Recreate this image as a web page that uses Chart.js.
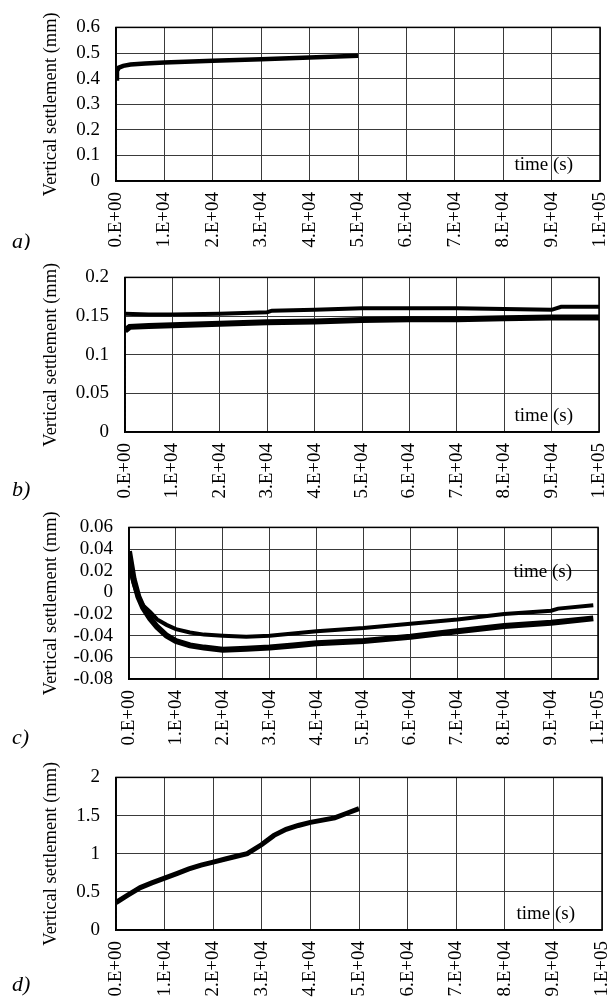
<!DOCTYPE html>
<html>
<head>
<meta charset="utf-8">
<script src="https://cdn.jsdelivr.net/npm/chart.js@4/dist/chart.umd.min.js"></script>
<style>
  body { margin: 0; background: #fff; width: 607px; height: 1001px; position: relative; overflow: hidden; }
  canvas { position: absolute; left: 0; }
</style>
</head>
<body>
<canvas id="chartA" width="607" height="250" style="top:0"></canvas>
<canvas id="chartB" width="607" height="250" style="top:250px"></canvas>
<canvas id="chartC" width="607" height="250" style="top:500px"></canvas>
<canvas id="chartD" width="607" height="251" style="top:750px"></canvas>
<script>
// a) one test, up to 5E4 s
const timeA = [0, 200, 600, 1500, 3000, 6000, 10000, 20000, 30000, 40000, 50000];
const settleA = [0.40, 0.43, 0.443, 0.450, 0.455, 0.459, 0.463, 0.470, 0.476, 0.482, 0.489];
const riseA = [0, 0.40];

// b) two tests
const timeB1 = [0, 5000, 10000, 20000, 30000, 31000, 40000, 50000, 60000, 70000, 80000, 90000, 92000, 100000];
const settleB1 = [0.153, 0.152, 0.152, 0.153, 0.155, 0.157, 0.158, 0.160, 0.160, 0.160, 0.159, 0.158, 0.162, 0.162];
const timeB2 = [0, 1000, 5000, 10000, 20000, 30000, 40000, 50000, 60000, 70000, 80000, 90000, 100000];
const settleB2 = [0.131, 0.136, 0.137, 0.138, 0.140, 0.142, 0.143, 0.145, 0.146, 0.146, 0.147, 0.148, 0.148];
const riseB = [0, 0.131];

// c) two tests, heave then settlement
const timeC1 = [0, 1000, 2000, 3000, 4500, 6000, 8000, 10000, 13000, 16000, 20000, 25000, 30000, 35000, 40000, 50000, 60000, 70000, 80000, 90000, 91500, 99000];
const settleC1 = [0.025, 0.008, -0.005, -0.012, -0.018, -0.025, -0.030, -0.034, -0.037, -0.039, -0.040, -0.041, -0.040, -0.038, -0.036, -0.033, -0.029, -0.025, -0.020, -0.017, -0.015, -0.012];
const timeC2 = [0, 1000, 2000, 3000, 4500, 6000, 8000, 10000, 13000, 16000, 20000, 25000, 30000, 35000, 40000, 50000, 60000, 70000, 80000, 90000, 99000];
const settleC2 = [0.038, 0.012, -0.004, -0.014, -0.024, -0.032, -0.040, -0.045, -0.049, -0.051, -0.053, -0.052, -0.051, -0.049, -0.047, -0.045, -0.041, -0.036, -0.031, -0.028, -0.024];

// d) one test, up to 5E4 s
const timeD = [0, 2500, 5000, 7500, 10000, 12500, 15000, 17500, 20000, 22500, 25000, 27000, 30000, 32500, 35000, 37500, 40000, 42500, 45000, 47500, 50000];
const settleD = [0.36, 0.46, 0.556, 0.62, 0.68, 0.74, 0.80, 0.85, 0.89, 0.93, 0.97, 1.0, 1.12, 1.24, 1.32, 1.37, 1.41, 1.44, 1.47, 1.53, 1.59];
const riseD = [0, 0.36];

const FONT = '"Liberation Serif", "Times New Roman", serif';

function pts(xs, ys) { return xs.map((x, i) => ({ x: x, y: ys[i] })); }
function sciLabel(v) {
  if (v === 0) return '0.E+00';
  const e = Math.floor(Math.log10(v) + 1e-9);
  const m = Math.round(v / Math.pow(10, e));
  return m + '.E+' + String(e).padStart(2, '0');
}

const panelText = {
  id: 'panelText',
  afterDraw(chart, args, opts) {
    const { ctx, chartArea } = chart;
    ctx.save();
    ctx.strokeStyle = '#000';
    ctx.lineWidth = 1.5;
    ctx.strokeRect(chartArea.left, chartArea.top, chartArea.right - chartArea.left, chartArea.bottom - chartArea.top);
    ctx.fillStyle = '#000';
    ctx.font = '19px ' + FONT;
    ctx.textAlign = 'right';
    ctx.textBaseline = 'middle';
    ctx.fillText('time (s)', chartArea.right - opts.timeRight, chartArea.bottom - opts.timeUp);
    ctx.font = 'italic 22px ' + FONT;
    ctx.textAlign = 'left';
    ctx.fillText(opts.letter, 12, opts.letterY);
    ctx.restore();
  }
};

function thick(data, w) {
  return { data: data, borderColor: '#000', borderWidth: w, pointRadius: 0, tension: 0, fill: false };
}
function thin(data) {
  return { data: data, borderColor: '#000', borderWidth: 1, borderDash: [2, 2], pointRadius: 0, fill: false };
}

function makeChart(id, p) {
  const H = document.getElementById(id).height;
  return new Chart(document.getElementById(id), {
    type: 'line',
    data: { datasets: p.datasets },
    plugins: [panelText],
    options: {
      responsive: false,
      animation: false,
      layout: { padding: { top: p.top, right: 607 - p.right, left: 0, bottom: 0 } },
      plugins: {
        legend: { display: false },
        tooltip: { enabled: false },
        panelText: { letter: p.letter, letterY: p.letterY, timeRight: p.timeRight, timeUp: p.timeUp }
      },
      scales: {
        x: {
          type: 'linear', min: 0, max: 100000,
          grid: { color: '#3a3a3a', lineWidth: 1, drawTicks: false },
          border: { color: '#000', width: 1.5 },
          ticks: {
            stepSize: 10000, autoSkip: false, minRotation: 90, maxRotation: 90,
            padding: 11, color: '#000', font: { family: FONT, size: 19 },
            callback: v => sciLabel(v)
          },
          afterFit: s => { s.height = H - p.bottom; s.paddingLeft = 0; s.paddingRight = 0; }
        },
        y: {
          min: p.ymin, max: p.ymax,
          grid: { color: '#3a3a3a', lineWidth: 1, drawTicks: false },
          border: { color: '#000', width: 1.5 },
          ticks: {
            stepSize: p.step, autoSkip: false, padding: 16, color: '#000', font: { family: FONT, size: 19 },
            callback: v => String(+v.toFixed(2))
          },
          title: {
            display: true, text: 'Vertical settlement (mm)', color: '#000',
            font: { family: FONT, size: 18.5 }, padding: { top: 40, bottom: 0 }
          },
          afterFit: s => { s.width = p.left; }
        }
      }
    }
  });
}

makeChart('chartA', {
  left: 116, right: 600, top: 13, bottom: 181, ymin: 0, ymax: 0.6, step: 0.1,
  letter: 'a)', letterY: 242, timeRight: 27, timeUp: 16,
  datasets: [thin(pts([0, 0], riseA)), thick(pts(timeA, settleA), 4.5)]
});
makeChart('chartB', {
  left: 125, right: 599, top: 14, bottom: 182, ymin: 0, ymax: 0.2, step: 0.05,
  letter: 'b)', letterY: 240, timeRight: 26, timeUp: 16,
  datasets: [thin(pts([0, 0], riseB)), thick(pts(timeB1, settleB1), 4), thick(pts(timeB2, settleB2), 6)]
});
makeChart('chartC', {
  left: 129, right: 598, top: 12, bottom: 179, ymin: -0.08, ymax: 0.06, step: 0.02,
  letter: 'c)', letterY: 238, timeRight: 26, timeUp: 107,
  datasets: [thick(pts(timeC1, settleC1), 4), thick(pts(timeC2, settleC2), 6)]
});
makeChart('chartD', {
  left: 116, right: 602, top: 12, bottom: 180, ymin: 0, ymax: 2, step: 0.5,
  letter: 'd)', letterY: 235, timeRight: 27, timeUp: 16,
  datasets: [thin(pts([0, 0], riseD)), thick(pts(timeD, settleD), 5)]
});
</script>
</body>
</html>
